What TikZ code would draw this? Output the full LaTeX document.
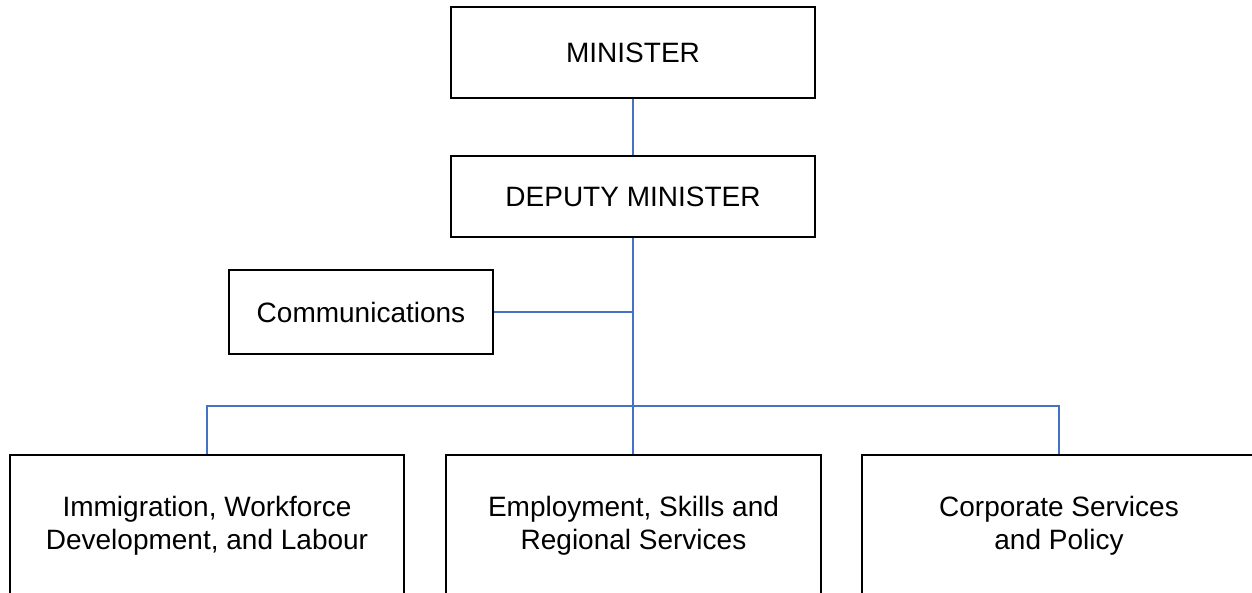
\documentclass[tikz,border=0pt]{standalone}
\usepackage{fontspec}
\setmainfont{Liberation Sans}
\definecolor{linkblue}{RGB}{68,114,196}
\tikzset{
  orgbox/.style={draw=black, line width=1.4pt, fill=white, inner sep=0pt, align=center,
    font=\fontsize{28}{33}\selectfont},
  link/.style={draw=linkblue, line width=1.3pt}
}
\begin{document}
\begin{tikzpicture}[x=1pt, y=-1pt]
\useasboundingbox (0,0) rectangle (1252,592);
\clip (0,0) rectangle (1252,592);
\fill[white] (0,0) rectangle (1252,592);
\node[orgbox, minimum width=364pt, minimum height=91pt] (min) at (633,52.5) {MINISTER};
\node[orgbox, minimum width=364pt, minimum height=81pt] (dep) at (633,196.5) {DEPUTY MINISTER};
\node[orgbox, minimum width=264pt, minimum height=84pt] (comm) at (361,312) {Communications};
\node[orgbox, minimum width=394pt, minimum height=141pt] (b1) at (207,525.5) {Immigration, Workforce\\Development, and Labour};
\node[orgbox, minimum width=375pt, minimum height=141pt] (b2) at (633.5,525.5) {Employment, Skills and\\Regional Services};
\node[orgbox, minimum width=394pt, minimum height=141pt] (b3) at (1059,525.5) {Corporate Services\\and Policy};
\coordinate (bus) at (633,406);
\draw[link] (min.south) -- (dep.north);
\draw[link] (dep.south) -- (bus);
\draw[link] (comm.east) -- (comm.east -| dep.south);
\draw[link] (b1.north) |- (bus) -| (b3.north);
\draw[link] (bus) -- (bus |- b2.north);
\end{tikzpicture}
\end{document}
